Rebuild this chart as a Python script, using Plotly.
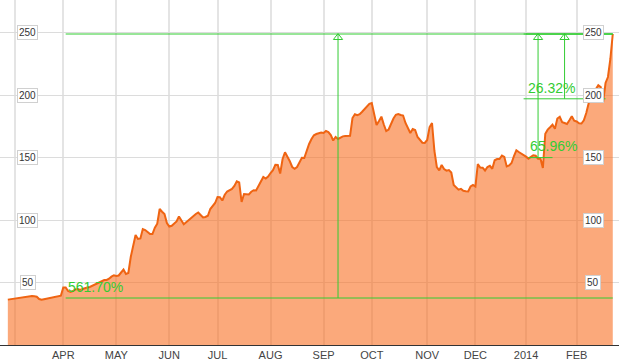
import pandas as pd
import plotly.graph_objects as go

# ---------------- data ----------------
start_date = "2013-02-26"
end_date = "2014-02-25"
holidays = ["2013-03-29", "2013-05-27", "2013-07-04", "2013-09-02", "2013-11-28",
            "2013-12-25", "2014-01-01", "2014-01-20", "2014-02-17"]

prices = [
    36.3, 36.6, 36.8, 37.2, 37.7, 38.2, 38.4, 38.6, 38.8, 39.0,
    39.2, 39.0, 38.6, 36.8, 36.2, 36.6, 37.0, 37.4, 37.8, 38.2,
    38.6, 39.0, 39.4, 46.0, 46.0, 43.2, 42.4, 43.2, 44.4, 44.8,
    44.0, 44.8, 45.6, 46.0, 46.4, 47.4, 48.6, 49.4, 50.2, 51.2,
    52.0, 52.0, 53.0, 54.7, 55.8, 55.2, 55.6, 58.0, 60.4, 56.8,
    57.6, 70.4, 80.0, 88.0, 84.8, 85.2, 92.8, 92.0, 90.4, 88.8,
    88.8, 93.8, 97.1, 108.8, 106.6, 104.8, 97.6, 94.8, 95.4, 97.2,
    98.8, 102.8, 99.2, 96.6, 98.2, 100.0, 101.6, 103.2, 104.8, 106.0,
    103.8, 102.0, 102.4, 103.4, 108.8, 110.8, 113.6, 118.4, 118.2, 115.6,
    120.2, 122.8, 123.8, 124.8, 127.2, 130.9, 130.0, 114.4, 120.8, 120.4,
    120.4, 122.6, 123.8, 123.6, 127.6, 130.8, 134.4, 133.2, 134.8, 137.6,
    139.8, 144.2, 144.0, 137.2, 148.8, 154.2, 150.8, 147.0, 142.4, 141.0,
    142.4, 145.6, 149.8, 149.6, 156.0, 160.8, 164.8, 167.8, 168.8, 169.6,
    169.9, 169.6, 171.2, 170.4, 168.0, 163.6, 166.4, 164.8, 166.2, 166.9,
    167.2, 167.4, 167.4, 181.6, 184.6, 183.8, 184.6, 186.6, 188.8, 190.7,
    193.0, 193.6, 183.2, 176.0, 179.2, 182.7, 176.4, 171.2, 172.4, 177.2,
    181.2, 184.2, 184.8, 184.0, 183.6, 177.6, 173.4, 169.6, 172.8, 172.0,
    166.4, 164.5, 161.8, 161.6, 164.0, 174.4, 177.6, 155.2, 142.4, 139.7,
    144.0, 140.8, 139.5, 140.0, 138.0, 128.0, 125.8, 124.3, 124.9, 123.4,
    123.0, 122.9, 126.8, 128.0, 126.8, 144.8, 142.0, 141.9, 139.6, 142.4,
    143.4, 141.0, 147.8, 148.8, 148.8, 151.6, 150.4, 142.8, 143.6, 145.6,
    151.2, 155.8, 154.4, 153.1, 152.5, 150.7, 149.1, 150.2, 151.8, 151.4,
    149.0, 149.1, 141.6, 169.0, 172.3, 174.2, 176.2, 173.0, 181.2, 182.6,
    178.2, 177.6, 176.8, 179.8, 183.0, 179.4, 178.8, 177.4, 177.2, 179.8,
    185.6, 193.4, 199.0, 201.8, 204.6, 207.8, 206.4, 194.4, 209.6, 214.4,
    228.8, 248.8,
]

month_ticks = ["2013-03-01", "2013-04-01", "2013-05-01", "2013-06-03", "2013-07-01",
               "2013-08-01", "2013-09-03", "2013-10-01", "2013-11-01", "2013-12-02",
               "2014-01-02", "2014-02-03"]
month_labels = ["", "APR", "MAY", "JUN", "JUL", "AUG", "SEP", "OCT", "NOV", "DEC",
                "2014", "FEB"]
y_ticks = [50, 100, 150, 200, 250]

# measurement tool lines (percentage change from base to last price)
m_labels = ["561.70%", "65.96%", "26.32%"]
m_base = [37.6, 149.92, 196.96]
m_base_start = ["2013-04-02", "2014-01-03", "2013-12-31"]
m_base_end = ["2014-02-25", "2014-01-17", "2014-02-20"]
m_top_start = ["2013-04-02", "2014-01-02", "2013-12-31"]
m_vline = ["2013-09-11", "2014-01-09", "2014-01-27"]
m_label_x = ["2013-04-02", "2014-01-03", "2014-01-02"]
m_label_y = [46.4, 159.2, 205.6]

# ---------------- build ----------------
dates = pd.bdate_range(start_date, end_date)
dates = dates[~dates.isin(pd.to_datetime(holidays))]
n = min(len(dates), len(prices))
dates = dates[:n]
prices = prices[:n]
last_date = dates[-1]
last_price = prices[-1]

GREEN = "#33cc33"
fig = go.Figure()

fig.add_trace(go.Scatter(
    x=dates, y=prices, mode="lines", fill="tozeroy",
    line=dict(color="#ef6412", width=2),
    fillcolor="rgba(249,112,35,0.6)", hoverinfo="skip"))

for i in range(len(m_labels)):
    xs = [m_top_start[i], last_date, None,
          m_base_start[i], m_base_end[i], None,
          m_vline[i], m_vline[i]]
    ys = [last_price, last_price, None,
          m_base[i], m_base[i], None,
          m_base[i], last_price]
    fig.add_trace(go.Scatter(x=xs, y=ys, mode="lines",
                             line=dict(color=GREEN, width=1), hoverinfo="skip"))
    fig.add_trace(go.Scatter(x=[m_vline[i]], y=[last_price - 2.8], mode="markers",
                             marker=dict(symbol="triangle-up-open", size=8,
                                         color=GREEN, line=dict(width=1, color=GREEN)),
                             hoverinfo="skip"))
    fig.add_annotation(x=m_label_x[i], y=m_label_y[i], text=m_labels[i],
                       showarrow=False, xanchor="left", yanchor="middle",
                       font=dict(family="Liberation Sans, Arial", size=14, color=GREEN))

for t in y_ticks:
    for px in (0.0445, 0.958):
        fig.add_annotation(x=px, xref="paper", y=t, yref="y", text=str(t),
                           showarrow=False, xanchor="center", yanchor="middle",
                           font=dict(family="Liberation Sans, Arial", size=10, color="#333333"),
                           bgcolor="white", bordercolor="#d0d0d0", borderwidth=1, borderpad=1)

fig.update_layout(
    width=619, height=361,
    margin=dict(l=0, r=0, t=0, b=16),
    plot_bgcolor="white", paper_bgcolor="white",
    showlegend=False,
    xaxis=dict(
        type="date",
        range=["2013-02-20 18:00", "2014-02-27 14:00"],
        rangebreaks=[dict(bounds=["sat", "mon"]), dict(values=holidays)],
        tickmode="array", tickvals=month_ticks, ticktext=month_labels,
        tickfont=dict(family="Liberation Sans, Arial", size=11, color="#444444"),
        showgrid=True, gridcolor="#e4e4e4", gridwidth=2,
        showline=True, linecolor="#333333", linewidth=1,
        ticks="", zeroline=False,
    ),
    yaxis=dict(
        range=[0, 276], tickmode="array", tickvals=y_ticks,
        showticklabels=False, showgrid=True, gridcolor="#dcdcdc", gridwidth=1,
        zeroline=False, showline=False,
    ),
)

fig.write_html("out.html")
